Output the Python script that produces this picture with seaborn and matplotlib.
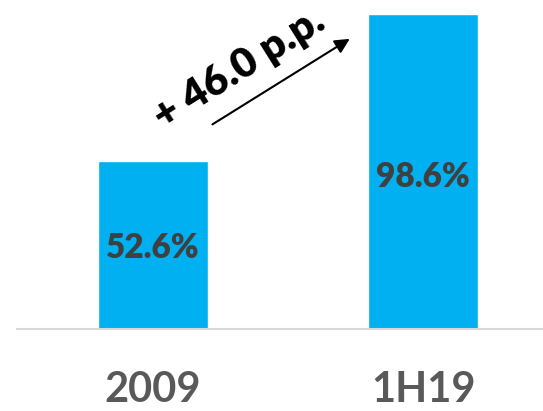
import pandas as pd
import seaborn as sns
import matplotlib.pyplot as plt

sns.set_style("white")
plt.rcParams['font.family'] = ['Lato', 'DejaVu Sans']

# Data
periods = ["2009", "1H19"]
shares = [52.6, 98.6]
value_labels = ["52.6%", "98.6%"]
change_label = "+ 46.0 p.p."

df = pd.DataFrame({"period": periods, "share": shares})

fig = plt.figure(figsize=(5.43, 4.11), dpi=100)
ax = fig.add_axes([17 / 543, 82 / 411, 1 - 17 / 543, 329 / 411])

sns.barplot(data=df, x="period", y="share", color="#00B0F0", width=0.407,
            saturation=1, ax=ax)

ax.set_xlim(-0.504, 1.444)
ax.set_ylim(0, 103)
ax.set_xlabel("")
ax.set_ylabel("")
ax.set_yticks([])
ax.tick_params(axis="x", length=0, pad=30, labelsize=30, labelcolor="#595959")
for lbl in ax.get_xticklabels():
    lbl.set_fontweight("bold")
for s in ["top", "left", "right"]:
    ax.spines[s].set_visible(False)
ax.spines["bottom"].set_color("#D9D9D9")
ax.spines["bottom"].set_linewidth(1.5)

# Value labels inside bars
label_pos = [25.5, 47.5]
for i, (lab, yp) in enumerate(zip(value_labels, label_pos)):
    ax.text(i, yp, lab, ha="center", va="center", fontsize=24,
            fontweight="heavy", color="#404040")

# Arrow and change annotation
ax.annotate("", xy=(0.737, 91.3), xytext=(0.211, 63.6),
            arrowprops=dict(arrowstyle="-|>", color="black", lw=1.5,
                            mutation_scale=22))
ax.text(0.32, 81.5, change_label, rotation=32, ha="center", va="center",
        fontsize=30, fontweight="heavy", color="black", rotation_mode="anchor")

fig.savefig("out.png", dpi=100)
